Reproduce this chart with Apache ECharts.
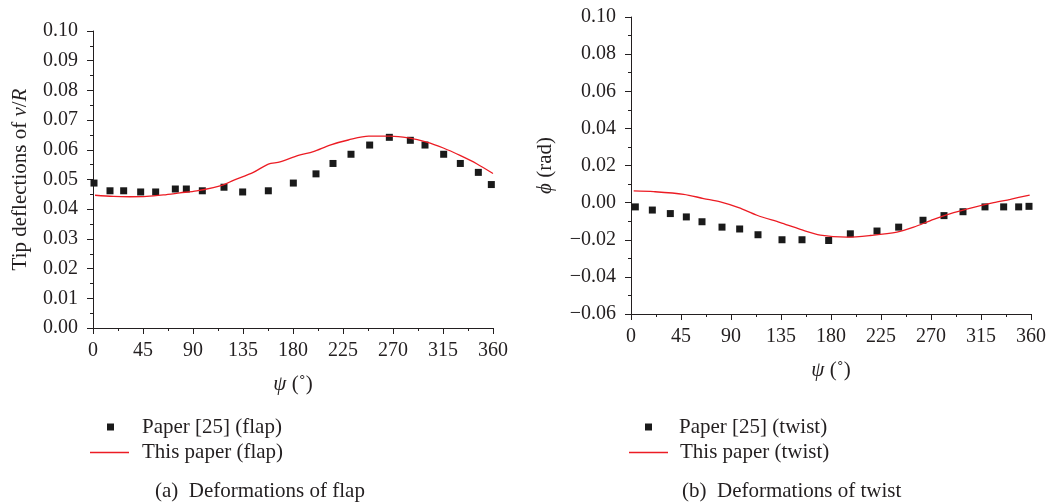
<!DOCTYPE html>
<html><head><meta charset="utf-8">
<script src="https://cdn.jsdelivr.net/npm/echarts@6/dist/echarts.min.js"></script>
<style>html,body{margin:0;padding:0;background:#fff}#c{width:1053px;height:504px}</style>
</head><body><div id="c"></div>
<script>
// ---- data ----
const psiTicks = [0, 45, 90, 135, 180, 225, 270, 315, 360];
const flapYTicks = [0.00, 0.01, 0.02, 0.03, 0.04, 0.05, 0.06, 0.07, 0.08, 0.09, 0.10];
const twistYTicks = [-0.06, -0.04, -0.02, 0.00, 0.02, 0.04, 0.06, 0.08, 0.10];

const flapPaper = [
  [0.9, 0.0488], [15.3, 0.0462], [27.6, 0.0462], [42.9, 0.0458], [56.4, 0.0458],
  [74.1, 0.0468], [84.0, 0.0468], [98.4, 0.0462], [117.9, 0.0474], [134.7, 0.0458],
  [157.8, 0.0462], [180.3, 0.0488], [200.7, 0.0519], [216.0, 0.0554], [232.2, 0.0585],
  [249.0, 0.0616], [266.7, 0.0642], [285.6, 0.0632], [298.8, 0.0616], [315.6, 0.0585],
  [330.6, 0.0554], [346.8, 0.0524], [358.5, 0.0483]
];
const flapThis = [
  [1.8, 0.0447], [18.3, 0.0443], [33.3, 0.0442], [48.3, 0.0443], [63.3, 0.0448],
  [78.3, 0.0455], [93.3, 0.0462], [108.3, 0.0473], [117.3, 0.0482], [126.3, 0.0497],
  [144.3, 0.0524], [157.8, 0.0552], [168.3, 0.0559], [184.8, 0.0581], [198.3, 0.0594],
  [213.3, 0.0616], [229.8, 0.0633], [248.1, 0.0646], [267.3, 0.0646], [283.8, 0.0640],
  [300.3, 0.0626], [315.3, 0.0606], [330.3, 0.0581], [345.3, 0.0553], [360.0, 0.0520]
];
const twistPaper = [
  [3.9, -0.0023], [19.2, -0.0040], [35.4, -0.0059], [49.8, -0.0077], [63.9, -0.0103],
  [81.9, -0.0132], [97.8, -0.0142], [114.3, -0.0173], [135.9, -0.0200], [153.9, -0.0200],
  [177.9, -0.0204], [197.4, -0.0168], [221.4, -0.0153], [240.9, -0.0132], [262.8, -0.0095],
  [281.7, -0.0070], [298.8, -0.0049], [318.6, -0.0023], [335.4, -0.0023], [348.9, -0.0023],
  [358.2, -0.0020]
];
const twistThis = [
  [2.4, 0.0063], [20.4, 0.0059], [47.4, 0.0045], [65.4, 0.0022], [80.4, 0.0004],
  [96.9, -0.0027], [113.4, -0.0068], [134.4, -0.0108], [152.4, -0.0144], [170.4, -0.0175],
  [194.4, -0.0186], [215.4, -0.0177], [239.4, -0.0159], [254.4, -0.0132], [272.4, -0.0090],
  [290.4, -0.0054], [308.4, -0.0025], [326.4, 0.0000], [341.4, 0.0018], [358.8, 0.0041]
];

// ---- style ----
const FONT = "'Liberation Serif','Times New Roman',serif";
const INK = '#231f20';
const RED = '#ec1c24';

function fmt(v) {
  if (Math.abs(v) < 1e-9) return '0.00';
  return (v < 0 ? '\u2212' : '') + Math.abs(v).toFixed(2);
}

function xAxis(gridIndex) {
  return {
    type: 'value', gridIndex: gridIndex, min: 0, max: 360, interval: 45,
    name: '{i|\u03c8} (\u02da)', nameLocation: 'middle', nameGap: 46,
    nameTextStyle: { fontFamily: FONT, fontSize: 21, color: INK,
      rich: { i: { fontFamily: FONT, fontSize: 21, fontStyle: 'italic', color: INK } } },
    axisLine: { show: true, onZero: false, lineStyle: { color: INK, width: 1 } },
    axisTick: { show: true, inside: false, length: 6, lineStyle: { color: INK } },
    minorTick: { show: true, splitNumber: 2, length: 3, lineStyle: { color: INK } },
    splitLine: { show: false },
    axisLabel: { fontFamily: FONT, fontSize: 20, color: INK, margin: 13 }
  };
}

function yAxis(gridIndex, min, max, interval, name, gap) {
  return {
    type: 'value', gridIndex: gridIndex, min: min, max: max, interval: interval,
    name: name, nameLocation: 'middle', nameGap: gap,
    nameTextStyle: { fontFamily: FONT, fontSize: 21, color: INK,
      rich: { i: { fontFamily: FONT, fontSize: 21, fontStyle: 'italic', color: INK } } },
    axisLine: { show: true, onZero: false, lineStyle: { color: INK, width: 1 } },
    axisTick: { show: true, inside: false, length: 6, lineStyle: { color: INK } },
    minorTick: { show: true, splitNumber: 2, length: 3, lineStyle: { color: INK } },
    splitLine: { show: false },
    axisLabel: { fontFamily: FONT, fontSize: 20, color: INK, margin: 15, formatter: fmt }
  };
}

function legendItem(left, top, name, w, h, padLeft) {
  return {
    orient: 'vertical', left: left, top: top, padding: 0,
    itemWidth: w, itemHeight: h, itemGap: 0,
    selectedMode: false,
    data: [{ name: name, icon: 'rect' }],
    textStyle: { fontFamily: FONT, fontSize: 21, color: INK, lineHeight: 21, padding: [0, 0, 0, padLeft] }
  };
}

const chart = echarts.init(document.getElementById('c'), null, { renderer: 'canvas' });
chart.setOption({
  backgroundColor: '#fff',
  animation: false,
  title: [
    { text: '(a)  Deformations of flap', left: 155, top: 481, padding: 0,
      textStyle: { fontFamily: FONT, fontSize: 21, fontWeight: 'normal', color: INK } },
    { text: '(b)  Deformations of twist', left: 682, top: 481, padding: 0,
      textStyle: { fontFamily: FONT, fontSize: 21, fontWeight: 'normal', color: INK } }
  ],
  grid: [
    { left: 93, top: 31, width: 400, height: 297, containLabel: false },
    { left: 631, top: 17, width: 400, height: 297, containLabel: false }
  ],
  xAxis: [xAxis(0), xAxis(1)],
  yAxis: [
    yAxis(0, 0, 0.1, 0.01, 'Tip deflections of {i|v}/{i|R}', 62),
    yAxis(1, -0.06, 0.1, 0.02, '{i|\u03d5} (rad)', 75)
  ],
  legend: [
    legendItem(107, 416.5, 'Paper [25] (flap)', 7, 7, 23),
    legendItem(90, 442, 'This paper (flap)', 39, 1.3, 8),
    legendItem(645, 416.5, 'Paper [25] (twist)', 7, 7, 22),
    legendItem(629, 442, 'This paper (twist)', 39, 1.3, 7)
  ],
  series: [
    { name: 'Paper [25] (flap)', type: 'scatter', xAxisIndex: 0, yAxisIndex: 0,
      symbol: 'rect', symbolSize: 7, itemStyle: { color: '#1a1a1a', opacity: 1 }, data: flapPaper },
    { name: 'This paper (flap)', type: 'line', xAxisIndex: 0, yAxisIndex: 0,
      symbol: 'none', smooth: 0.3, lineStyle: { color: RED, width: 1.3 }, itemStyle: { color: RED },
      data: flapThis },
    { name: 'Paper [25] (twist)', type: 'scatter', xAxisIndex: 1, yAxisIndex: 1,
      symbol: 'rect', symbolSize: 7, itemStyle: { color: '#1a1a1a', opacity: 1 }, data: twistPaper },
    { name: 'This paper (twist)', type: 'line', xAxisIndex: 1, yAxisIndex: 1,
      symbol: 'none', smooth: 0.3, lineStyle: { color: RED, width: 1.3 }, itemStyle: { color: RED },
      data: twistThis }
  ]
});
</script>
</body></html>
